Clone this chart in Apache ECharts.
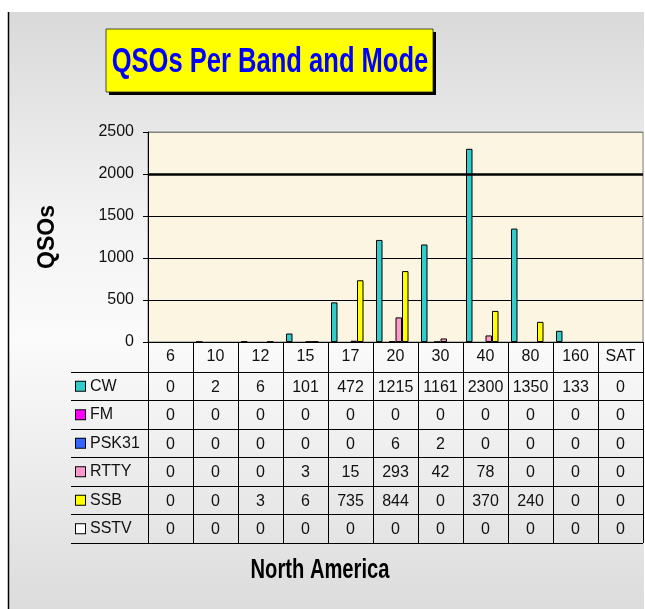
<!DOCTYPE html>
<html>
<head>
<meta charset="utf-8">
<script src="https://cdn.jsdelivr.net/npm/echarts@6/dist/echarts.min.js"></script>
<style>
html,body{margin:0;padding:0;background:#fff;}
#c{width:645px;height:609px;}
</style>
</head>
<body>
<div id="c"></div>
<script>
// ---- data ----
const bands = ['6','10','12','15','17','20','30','40','80','160','SAT'];
const modes = ['CW','FM','PSK31','RTTY','SSB','SSTV'];
const cw    = [0, 2, 6, 101, 472, 1215, 1161, 2300, 1350, 133, 0];
const fm    = [0, 0, 0, 0, 0, 0, 0, 0, 0, 0, 0];
const psk31 = [0, 0, 0, 0, 0, 6, 2, 0, 0, 0, 0];
const rtty  = [0, 0, 0, 3, 15, 293, 42, 78, 0, 0, 0];
const ssb   = [0, 0, 3, 6, 735, 844, 0, 370, 240, 0, 0];
const sstv  = [0, 0, 0, 0, 0, 0, 0, 0, 0, 0, 0];
const yTicks = [0, 500, 1000, 1500, 2000, 2500];
const modeColors = ['#33cccc', '#ff00ff', '#3366ff', '#ff99cc', '#ffff00', '#ffffff'];

const seriesValues = [cw, fm, psk31, rtty, ssb, sstv];
const FONT = '"Liberation Sans", Arial, sans-serif';

const chart = echarts.init(document.getElementById('c'));

const barSeries = modes.map((m, k) => ({
  name: m,
  type: 'bar',
  xAxisIndex: 0,
  yAxisIndex: 0,
  data: seriesValues[k].map(v => ({ value: v, itemStyle: { borderWidth: v === 0 ? 0 : 1 } })),
  barWidth: 6.5,
  barGap: '0%',
  itemStyle: { color: modeColors[k], borderColor: '#000', borderWidth: 1 },
  emphasis: { disabled: true },
  markLine: k === 0 ? {
    silent: true, symbol: 'none', label: { show: false },
    lineStyle: { color: '#000', width: 2.5, type: 'solid' },
    data: [{ yAxis: yTicks[4] }]
  } : undefined
}));

const tableData = [];
seriesValues.forEach((arr, j) => arr.forEach((v, i) => tableData.push([i, j, v])));

const rich = { t: { fontSize: 16, fontFamily: FONT, color: '#111', padding: [0, 0, 0, 5] } };
modeColors.forEach((c, k) => {
  rich['k' + k] = { width: 9, height: 9, backgroundColor: c, borderColor: '#000', borderWidth: 1 };
});

const option = {
  backgroundColor: '#ffffff',
  animation: false,
  textStyle: { fontFamily: FONT },
  graphic: [
    { type: 'rect', z: -100, silent: true,
      shape: { x: 8, y: 12, width: 636, height: 597 },
      style: { fill: new echarts.graphic.LinearGradient(0, 0, 0, 1, [
        { offset: 0, color: '#d9d9d9' },
        { offset: 0.35, color: '#f3f3f3' },
        { offset: 0.55, color: '#fbfbfb' },
        { offset: 0.78, color: '#ebebeb' },
        { offset: 1, color: '#dcdcdc' }
      ]) } },
    { type: 'line', z: -99, silent: true,
      shape: { x1: 8.5, y1: 12, x2: 8.5, y2: 609 },
      style: { stroke: '#000', lineWidth: 1.5 } },
    { type: 'rect', z: 100, silent: true,
      shape: { x: 109, y: 32, width: 327, height: 63 },
      style: { fill: '#000' } },
    { type: 'rect', z: 101, silent: true,
      shape: { x: 106, y: 29, width: 327, height: 63 },
      style: { fill: '#ffff00', stroke: '#222', lineWidth: 0.8 } },
    { type: 'text', z: 102, silent: true, x: 270, y: 62, scaleX: 0.73,
      style: { text: 'QSOs Per Band and Mode', font: 'bold 35px ' + FONT, fill: '#0000ff',
        align: 'center', verticalAlign: 'middle', textAlign: 'center', textVerticalAlign: 'middle' } },
    { type: 'text', z: 102, silent: true, x: 320, y: 570, scaleX: 0.72,
      style: { text: 'North America', font: 'bold 28px ' + FONT, fill: '#000',
        align: 'center', verticalAlign: 'middle', textAlign: 'center', textVerticalAlign: 'middle' } }
  ],
  grid: [
    { left: 148, right: 2, top: 132, height: 210, show: true,
      backgroundColor: '#fcf5e1', borderColor: '#808080', borderWidth: 1 },
    { left: 148, right: 2, top: 372, height: 171 }
  ],
  xAxis: [
    { type: 'category', gridIndex: 0, data: bands, boundaryGap: true,
      axisLine: { show: true, lineStyle: { color: '#000', width: 1 } },
      axisTick: { show: true, length: 30, alignWithLabel: false, lineStyle: { color: '#000', width: 1 } },
      axisLabel: { fontSize: 16, color: '#111', margin: 0, lineHeight: 30, interval: 0, fontFamily: FONT },
      splitLine: { show: false } },
    { type: 'category', gridIndex: 1, data: bands, position: 'top', boundaryGap: true,
      axisLine: { show: true, lineStyle: { color: '#000', width: 1 } },
      axisTick: { show: false }, axisLabel: { show: false },
      splitLine: { show: true, interval: 0, lineStyle: { color: '#000', width: 1 } } }
  ],
  yAxis: [
    { type: 'value', gridIndex: 0, min: yTicks[0], max: yTicks[yTicks.length - 1], interval: 500,
      name: 'QSOs', nameLocation: 'middle', nameRotate: 90, nameGap: 89,
      nameTextStyle: { fontSize: 23, fontWeight: 'bold', color: '#000', fontFamily: FONT },
      axisLine: { show: true, lineStyle: { color: '#000', width: 1 } },
      axisTick: { show: true, length: 5, lineStyle: { color: '#000' } },
      axisLabel: { fontSize: 16, color: '#111', margin: 14, fontFamily: FONT,
        formatter: v => String(v) },
      splitLine: { show: true, lineStyle: { color: ['#000', '#000', '#000', '#000', '#000', '#808080'], width: 1 } } },
    { type: 'category', gridIndex: 1, data: modes, inverse: true, boundaryGap: true,
      axisLine: { show: true, lineStyle: { color: '#000', width: 1 } },
      axisTick: { show: true, length: 77, alignWithLabel: false, lineStyle: { color: '#000', width: 1 } },
      axisLabel: { show: true, align: 'left', margin: 72, interval: 0,
        formatter: (v, idx) => '{k' + idx + '|}{t|' + v + '}', rich: rich },
      splitLine: { show: true, interval: 0, lineStyle: { color: '#000', width: 1 } } },
    { type: 'category', gridIndex: 1, data: modes, inverse: true, offset: 77,
      axisLine: { show: true, lineStyle: { color: '#000', width: 1 } },
      axisTick: { show: false }, axisLabel: { show: false }, splitLine: { show: false } }
  ],
  series: barSeries.concat([{
    type: 'custom',
    xAxisIndex: 1,
    yAxisIndex: 1,
    silent: true,
    data: tableData,
    renderItem: function (params, api) {
      const p = api.coord([api.value(0), api.value(1)]);
      return {
        type: 'text', x: p[0], y: p[1] + 1,
        style: { text: String(api.value(2)), font: '16px ' + FONT, fill: '#111',
          align: 'center', verticalAlign: 'middle', textAlign: 'center', textVerticalAlign: 'middle' }
      };
    }
  }])
};
chart.setOption(option);
</script>
</body>
</html>
